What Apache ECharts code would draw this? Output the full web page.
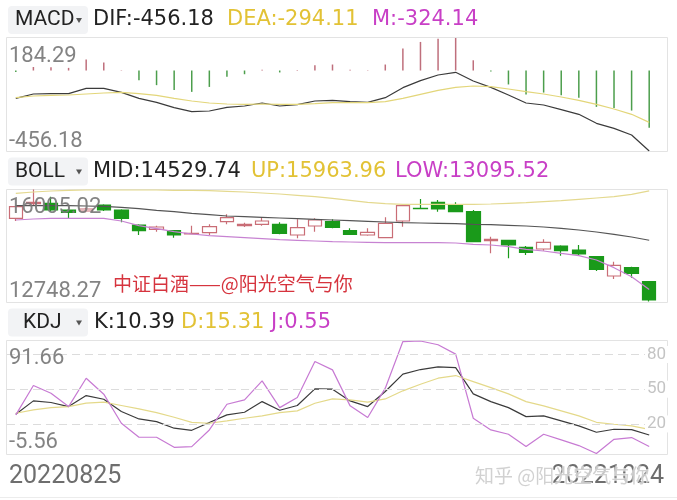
<!DOCTYPE html>
<html><head><meta charset="utf-8">
<script src="https://cdn.jsdelivr.net/npm/echarts@6/dist/echarts.min.js"></script>
<style>html,body{margin:0;padding:0;background:#fff}#c{width:677px;height:500px}</style>
</head><body><div id="c"></div>
<script>
// ---------- data ----------
const dates = ['20220825','20220826','20220829','20220830','20220831','20220901','20220902','20220905','20220906','20220907','20220908','20220909','20220913','20220914','20220915','20220916','20220919','20220920','20220921','20220922','20220923','20220926','20220927','20220928','20220929','20220930','20221010','20221011','20221012','20221013','20221014','20221017','20221018','20221019','20221020','20221021','20221024'];

const dif = [-157.6,-133.1,-131.2,-131.2,-100.9,-100.9,-123.6,-157.6,-180.3,-210.5,-233.2,-229.4,-208.6,-201.1,-184.1,-201.1,-193.5,-172.7,-169.0,-176.5,-180.3,-153.8,-97.2,-57.5,-25.4,-10.3,-59.4,-95.3,-138.7,-184.1,-195.4,-221.8,-248.3,-299.3,-327.6,-365.4,-456.18];
const dea = [-153.8,-144.4,-140.6,-138.7,-133.1,-127.4,-123.6,-131.2,-140.6,-157.6,-172.7,-184.1,-189.7,-191.6,-189.7,-191.6,-191.6,-187.8,-182.2,-182.2,-182.2,-176.5,-157.6,-134.9,-112.3,-95.3,-87.7,-91.5,-104.7,-119.8,-133.1,-150.1,-169.0,-191.6,-218.1,-248.3,-294.11];
const macdM = [-8,20,19,15,62,45,2,-55,-83,-111,-121,-93,-36,-21,4,-11,3,30,34,4,2,34,125,162,180,184.29,58,-5,-79,-136,-125,-140,-155,-206,-212,-227,-324.14];

// [open, close, low, high]
const ohlc = [
 [15166.6,15505.9,15089.1,15534.9],
 [15593.2,15631.9,15554.3,16005.02],
 [15602.8,15408.9,15360.5,15796.7],
 [15408.9,15341.1,15166.6,15438.0],
 [15379.8,15438.0,15341.1,15476.8],
 [15554.3,15408.9,15379.8,15573.7],
 [15408.9,15166.6,15050.3,15428.3],
 [14972.7,14808.0,14681.9,14992.1],
 [14846.7,14914.6,14778.9,14953.4],
 [14808.0,14681.9,14604.4,14827.3],
 [14711.0,14730.4,14701.3,14953.4],
 [14749.8,14924.3,14681.9,14992.1],
 [15069.7,15186.0,14992.1,15282.9],
 [14953.4,14992.1,14914.6,15040.6],
 [14992.1,15089.1,14953.4,15186.0],
 [14992.1,14730.4,14701.3,15050.3],
 [14681.9,14895.2,14585.0,15137.5],
 [14943.7,15118.2,14778.9,15166.6],
 [15069.7,14904.9,14875.8,15137.5],
 [14808.0,14701.3,14681.9,14875.8],
 [14681.9,14759.5,14662.6,14875.8],
 [14604.4,15021.2,14585.0,15195.7],
 [15089.1,15534.9,14924.3,15573.7],
 [15457.4,15450.0,15438.0,15728.8],
 [15631.9,15438.0,15360.5,15699.7],
 [15534.9,15360.5,15341.1,15631.9],
 [15360.5,14488.1,14468.7,15408.9],
 [14517.1,14555.9,14148.8,14633.5],
 [14526.8,14391.2,14003.4,14536.5],
 [14323.3,14177.9,14100.4,14362.1],
 [14274.8,14468.7,14226.4,14555.9],
 [14362.1,14226.4,14081.0,14381.5],
 [14245.8,14129.5,14081.0,14391.2],
 [14051.9,13683.6,13635.1,14071.3],
 [13489.7,13799.9,13402.5,13906.5],
 [13732.0,13567.3,13441.2,13761.0],
 [13325.0,12791.8,12748.27,13344.3]
];
const bollMid = [15534.9,15534.9,15534.9,15534.9,15525.2,15515.5,15486.5,15447.7,15399.2,15360.5,15312.0,15273.2,15234.4,15215.1,15195.7,15176.3,15156.9,15137.5,15118.2,15098.8,15079.4,15060.0,15040.6,15030.9,15021.2,15011.5,14992.1,14982.4,14963.1,14943.7,14914.6,14875.8,14827.3,14769.2,14701.3,14623.8,14529.74];
const bollUp = [15893.6,15932.4,15961.4,15980.8,15990.5,15990.5,15990.5,15990.5,15990.5,15980.8,15980.8,15971.1,15951.7,15932.4,15903.3,15874.2,15835.4,15796.7,15748.2,15690.0,15631.9,15593.1,15573.7,15573.7,15573.7,15573.7,15573.7,15583.4,15602.8,15622.2,15651.3,15680.3,15719.1,15757.9,15796.7,15864.5,15963.96];
const bollLow = [15118.2,15147.2,15166.6,15166.6,15166.6,15166.6,15089.1,14953.4,14866.1,14778.9,14711.0,14662.6,14633.5,14604.4,14575.3,14546.2,14526.8,14507.5,14488.1,14478.4,14468.7,14459.0,14459.0,14459.0,14459.0,14449.3,14410.5,14391.2,14342.7,14265.1,14216.7,14148.8,14081.0,13955.0,13732.0,13470.3,13095.52];

const kdjK = [28.4,39.9,38.5,35.0,44.5,41.3,30.7,24.3,22.0,16.3,14.5,21.2,27.8,30.1,39.3,31.8,35.9,50.3,50.0,39.9,35.0,48.0,63.0,67.0,69.3,68.7,46.0,39.3,34.1,26.3,26.9,22.6,18.3,12.8,15.4,15.1,10.39];
const kdjD = [29.2,32.1,34.1,35.0,37.9,38.8,35.9,33.0,29.8,25.8,21.4,20.6,22.6,24.9,26.9,29.8,31.3,37.9,41.6,40.8,38.8,41.6,48.6,54.3,59.5,61.8,56.6,51.4,46.0,39.3,35.6,31.3,26.9,21.4,19.7,18.3,15.31];
const kdjJ = [27.8,53.2,46.5,35.0,59.5,45.7,20.6,8.5,8.5,-0.2,0.4,14.8,37.0,40.8,57.2,34.1,42.8,73.9,66.7,35.6,25.5,50.9,91.2,91.66,88.4,80.3,24.9,14.8,11.1,0.4,11.1,6.2,1.3,-5.56,6.7,8.2,0.55];

// tick labels
const macdTicks = [184.29, -456.18];
const bollTicks = [16005.02, 12748.27];
const kdjTicks = [91.66, -5.56];
const kdjLevels = [80, 50, 20];
const dateTicks = [dates[0], dates[dates.length - 1]];

// ---------- styles ----------
const last = a => a[a.length - 1];
const f2 = v => v.toFixed(2);
const C_BLACK = '#222', C_GOLD = '#e2c235', C_MAG = '#c83fc6';
const HF = '"DejaVu Sans"';
const grids = [{top:38,height:113},{top:189.5,height:112},{top:341,height:112.5}];

function txt(x, y, text, fill, size, family, align, extra) {
  return Object.assign({type:'text', x:x, y:y, z:100, silent:true,
    style:Object.assign({text:text, fill:fill, fontSize:size, fontFamily:family,
      align:align||'left', verticalAlign:'middle', textAlign:align||'left', textVerticalAlign:'middle'}, extra||{})});
}
const gfx = [];
grids.forEach(g => gfx.push({type:'rect', z:0, silent:true,
  shape:{x:6.5, y:Math.round(g.top)+0.5-1, width:661, height:Math.round(g.height)+1},
  style:{fill:'none', stroke:'#e3e3e3', lineWidth:1}}));
const headers = [
  {y:20, name:'MACD', nx:15, items:[['DIF:'+f2(last(dif)),93,C_BLACK],['DEA:'+f2(last(dea)),227,C_GOLD],['M:'+f2(last(macdM)),372,C_MAG]]},
  {y:171.5, name:'BOLL', nx:15, items:[['MID:'+f2(last(bollMid)),93,C_BLACK],['UP:'+f2(last(bollUp)),251,C_GOLD],['LOW:'+f2(last(bollLow)),395,C_MAG]]},
  {y:322.5, name:'KDJ', nx:23, items:[['K:'+f2(last(kdjK)),94,C_BLACK],['D:'+f2(last(kdjD)),181,C_GOLD],['J:'+f2(last(kdjJ)),271,C_MAG]]}
];
headers.forEach(h => {
  gfx.push({type:'rect', z:1, silent:true, shape:{x:8, y:h.y-14, width:80, height:28, r:4}, style:{fill:'#f2f3f5'}});
  gfx.push(txt(h.nx, h.y, h.name, '#222', 21, 'Roboto'));
  gfx.push({type:'polygon', z:2, silent:true, shape:{points:[[76,h.y-2],[82,h.y-2],[79,h.y+3]]}, style:{fill:'#555'}});
  h.items.forEach(it => gfx.push(txt(it[1], h.y, it[0], it[2], 21, HF)));
});
const yl = [[macdTicks, 56.5, 141],[bollTicks, 207.5, 291.5],[kdjTicks, 358.3, 442.5]];
yl.forEach(r => {
  gfx.push(txt(9, r[1], f2(r[0][0]), 'rgba(120,120,120,0.92)', 22, 'Roboto'));
  gfx.push(txt(9, r[2], f2(r[0][1]), 'rgba(120,120,120,0.92)', 22, 'Roboto'));
});
gfx.push(txt(9, 477, dateTicks[0], '#6e6e6e', 25, 'Roboto'));
gfx.push(txt(664, 477, dateTicks[1], '#6e6e6e', 25, 'Roboto', 'right'));
gfx.push(txt(475, 476, '知乎 @阳光空气与你', 'rgba(205,205,205,0.92)', 19, '"Noto Sans CJK SC"', 'left', {stroke:'rgba(255,255,255,0.6)', lineWidth:2}));
gfx.push(txt(113, 283.5, '中证白酒——@阳光空气与你', '#d6343e', 19, '"Noto Sans CJK SC"'));
gfx.push({type:'line', z:0, silent:true, shape:{x1:0,y1:497.5,x2:677,y2:497.5}, style:{stroke:'#ececec', lineWidth:1}});

const lineS = (xi, data, color, extra) => Object.assign({type:'line', xAxisIndex:xi, yAxisIndex:xi, data:data,
  symbol:'none', smooth:false, silent:true, z:3, lineStyle:{color:color, width:1.2}}, extra||{});

const option = {
  animation:false,
  backgroundColor:'#fff',
  grid: grids.map(g => ({left:7, width:651, top:g.top, height:g.height, show:false})),
  xAxis: [0,1,2].map(i => ({type:'category', gridIndex:i, data:dates, boundaryGap:true,
    axisLine:{show:false}, axisTick:{show:false}, axisLabel:{show:false}, splitLine:{show:false}})),
  yAxis: [
    {type:'value', gridIndex:0, min:macdTicks[1], max:macdTicks[0], show:false},
    {type:'value', gridIndex:1, min:bollTicks[1], max:bollTicks[0], show:false},
    {type:'value', gridIndex:2, min:kdjTicks[1], max:kdjTicks[0], show:false}
  ],
  series: [
    {type:'bar', xAxisIndex:0, yAxisIndex:0, barWidth:1.5, silent:true, z:2,
     data: macdM.map(v => ({value:v, itemStyle:{color: v >= 0 ? '#bf6f7c' : '#4c9e4c'}}))},
    lineS(0, dif, '#3b3b3b'),
    lineS(0, dea, '#e3d67a'),
    {type:'candlestick', xAxisIndex:1, yAxisIndex:1, data:ohlc, barWidth:14, silent:true, z:2,
     itemStyle:{color:'#ffffff', color0:'#1a9a1a', borderColor:'#c96d76', borderColor0:'#1a9a1a', borderWidth:1.2}},
    lineS(1, bollMid, '#555555'),
    lineS(1, bollUp, '#e4d98f'),
    lineS(1, bollLow, '#c783d2'),
    lineS(2, kdjK, '#3b3b3b', {markLine:{silent:true, symbol:['none','none'], animation:false,
      lineStyle:{color:'#dcdcdc', type:[8,5], width:1},
      label:{show:true, position:'end', distance:-13, formatter:p => String(p.value), color:'#c4c4c4',
        fontSize:17, fontFamily:'Roboto', backgroundColor:'#fff', padding:[0,2]},
      emphasis:{disabled:true},
      data: kdjLevels.map(v => ({yAxis:v}))}}),
    lineS(2, kdjD, '#e4d98a'),
    lineS(2, kdjJ, '#c77ad3')
  ],
  graphic: {elements: gfx}
};
const chart = echarts.init(document.getElementById('c'));
chart.setOption(option);
</script>
</body></html>
